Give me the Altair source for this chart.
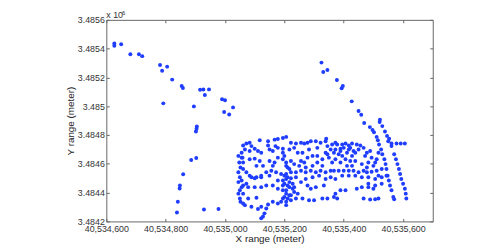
import altair as alt
import pandas as pd

# Scattered trail on the west side (meters)
west_pts = [
    [40534627, 3485436], [40534627, 3485420], [40534650, 3485431], [40534681, 3485361],
    [40534710, 3485361], [40534721, 3485348], [40534781, 3485286], [40534788, 3485247],
    [40534805, 3485275], [40534822, 3485185], [40534854, 3485140], [40534858, 3485127],
    [40534792, 3485020], [40534895, 3484999], [40534916, 3485115], [40534927, 3485116],
    [40534946, 3485117], [40534932, 3485078], [40534990, 3485049], [40535000, 3485041],
    [40534997, 3484960], [40535014, 3484942], [40535027, 3484992], [40534905, 3484859],
    [40534904, 3484843], [40534902, 3484825], [40534886, 3484627], [40534903, 3484641],
    [40534859, 3484528], [40534848, 3484450], [40534847, 3484429], [40534841, 3484336],
    [40534838, 3484262], [40534929, 3484283], [40534978, 3484286],
]

# Trail coming down from the north-east (meters)
ne_pts = [
    [40535325, 3485303], [40535331, 3485238], [40535345, 3485252], [40535377, 3485182],
    [40535393, 3485125], [40535397, 3485140], [40535427, 3485034], [40535450, 3484967],
    [40535459, 3484941], [40535469, 3484883], [40535488, 3484855], [40535497, 3484835],
    [40535502, 3484819], [40535511, 3484787], [40535522, 3484907], [40535521, 3484890],
    [40535530, 3484862], [40535539, 3484825], [40535546, 3484794], [40535553, 3484774],
    [40535341, 3484774],
]

# Two diagonal lines on the east edge of the block
east_pts = [
    [40535515, 3484764], [40535519, 3484734], [40535526, 3484700], [40535530, 3484666],
    [40535537, 3484632], [40535541, 3484598], [40535544, 3484564], [40535548, 3484518],
    [40535552, 3484484], [40535556, 3484450], [40535561, 3484416], [40535567, 3484370],
    [40535570, 3484354],
    [40535550, 3484757], [40535561, 3484723], [40535570, 3484666], [40535576, 3484632],
    [40535581, 3484598], [40535586, 3484564], [40535590, 3484529], [40535594, 3484495],
    [40535600, 3484461], [40535606, 3484427], [40535609, 3484393], [40535611, 3484359],
    [40535561, 3484741], [40535578, 3484741], [40535592, 3484741], [40535606, 3484741],
]

# Dense block of points (meters)
block_pts = [
    # top row
    [40535061, 3484727], [40535072, 3484741], [40535083, 3484746], [40535089, 3484723],
    [40535117, 3484764], [40535145, 3484757], [40535145, 3484727], [40535167, 3484768],
    [40535170, 3484723], [40535178, 3484773], [40535195, 3484780], [40535206, 3484787],
    [40535222, 3484746], [40535239, 3484741], [40535256, 3484746], [40535267, 3484741],
    [40535278, 3484746], [40535289, 3484757], [40535306, 3484757], [40535322, 3484746],
    [40535339, 3484757], [40535345, 3484723], [40535361, 3484734], [40535378, 3484734],
    [40535395, 3484734], [40535406, 3484741], [40535417, 3484727], [40535428, 3484741],
    [40535444, 3484734], [40535456, 3484727], [40535467, 3484711],
    # second row
    [40535056, 3484677], [40535067, 3484700], [40535083, 3484689], [40535100, 3484705],
    [40535111, 3484689], [40535122, 3484677], [40535150, 3484700], [40535161, 3484689],
    [40535178, 3484711], [40535195, 3484705], [40535217, 3484700], [40535233, 3484711],
    [40535245, 3484677], [40535261, 3484677], [40535283, 3484700], [40535311, 3484711],
    [40535339, 3484677], [40535372, 3484700], [40535389, 3484689], [40535400, 3484711],
    [40535417, 3484700], [40535433, 3484689], [40535450, 3484700], [40535478, 3484677],
    [40535489, 3484689], [40535517, 3484677],
    # third row
    [40535056, 3484643], [40535061, 3484609], [40535083, 3484632], [40535100, 3484636],
    [40535117, 3484620], [40535128, 3484586], [40535150, 3484620], [40535167, 3484609],
    [40535178, 3484643], [40535195, 3484632], [40535206, 3484609], [40535222, 3484620],
    [40535233, 3484598], [40535256, 3484620], [40535267, 3484609], [40535278, 3484643],
    [40535295, 3484655], [40535311, 3484655], [40535328, 3484632], [40535345, 3484666],
    [40535361, 3484609], [40535372, 3484632], [40535389, 3484609], [40535406, 3484632],
    [40535422, 3484620], [40535439, 3484620], [40535461, 3484598], [40535483, 3484609],
    [40535506, 3484609],
    # middle band
    [40535061, 3484564], [40535072, 3484541], [40535089, 3484507], [40535106, 3484507],
    [40535122, 3484518], [40535139, 3484541], [40535156, 3484552], [40535172, 3484541],
    [40535189, 3484529], [40535206, 3484529], [40535222, 3484541], [40535239, 3484541],
    [40535256, 3484552], [40535272, 3484541], [40535289, 3484552], [40535306, 3484541],
    [40535322, 3484552], [40535339, 3484541], [40535356, 3484552], [40535367, 3484552],
    [40535383, 3484552], [40535400, 3484552], [40535417, 3484552], [40535433, 3484552],
    [40535450, 3484541], [40535467, 3484552], [40535478, 3484541], [40535494, 3484545],
    [40535511, 3484552], [40535528, 3484564],
    # fourth row
    [40535056, 3484484], [40535061, 3484450], [40535083, 3484518], [40535100, 3484500],
    [40535122, 3484507], [40535150, 3484518], [40535178, 3484484], [40535195, 3484484],
    [40535206, 3484495], [40535222, 3484500], [40535239, 3484507], [40535256, 3484473],
    [40535272, 3484495], [40535295, 3484507], [40535317, 3484518], [40535339, 3484495],
    [40535356, 3484507], [40535372, 3484495], [40535395, 3484518], [40535417, 3484518],
    [40535439, 3484518], [40535461, 3484507], [40535483, 3484507], [40535506, 3484495],
    [40535528, 3484507], [40535544, 3484518],
    # fifth row
    [40535050, 3484416], [40535061, 3484393], [40535078, 3484438], [40535100, 3484438],
    [40535122, 3484438], [40535139, 3484450], [40535161, 3484450], [40535178, 3484427],
    [40535195, 3484450], [40535206, 3484416], [40535217, 3484438], [40535233, 3484438],
    [40535245, 3484393], [40535278, 3484450], [40535289, 3484427], [40535306, 3484438],
    [40535372, 3484393], [40535389, 3484416], [40535406, 3484416], [40535444, 3484427],
    [40535461, 3484438], [40535483, 3484438], [40535506, 3484450], [40535528, 3484461],
    # bottom row
    [40535050, 3484359], [40535061, 3484325], [40535078, 3484359], [40535089, 3484302],
    [40535106, 3484364], [40535122, 3484302], [40535145, 3484318], [40535161, 3484336],
    [40535178, 3484325], [40535195, 3484359], [40535206, 3484336], [40535222, 3484382],
    [40535239, 3484359], [40535261, 3484359], [40535283, 3484347], [40535300, 3484347],
    [40535328, 3484359], [40535345, 3484359], [40535367, 3484370], [40535378, 3484359],
    [40535467, 3484359], [40535489, 3484352], [40535506, 3484354], [40535517, 3484359],
    # tail to the south
    [40535122, 3484222], [40535128, 3484234], [40535133, 3484256], [40535139, 3484290],
    [40535111, 3484286],
    # west column
    [40535045, 3484655], [40535048, 3484609], [40535052, 3484575], [40535045, 3484541],
    [40535050, 3484507], [40535045, 3484473], [40535056, 3484438], [40535045, 3484393],
    [40535052, 3484336], [40535067, 3484313], [40535059, 3484643], [40535072, 3484461],
    # dense column
    [40535195, 3484677], [40535200, 3484655], [40535206, 3484586], [40535211, 3484575],
    [40535217, 3484564], [40535200, 3484518], [40535211, 3484507], [40535217, 3484473],
    [40535200, 3484461], [40535211, 3484450], [40535195, 3484416], [40535206, 3484393],
    [40535217, 3484382], [40535200, 3484370], [40535211, 3484359], [40535222, 3484347],
    [40535189, 3484336], [40535206, 3484313], [40535228, 3484427], [40535228, 3484461],
    [40535233, 3484404],
    # extra points, north-middle
    [40535356, 3484700], [40535367, 3484677], [40535383, 3484666], [40535395, 3484655],
    [40535411, 3484677], [40535428, 3484655], [40535372, 3484746], [40535389, 3484705],
    [40535422, 3484711], [40535439, 3484677], [40535350, 3484643], [40535411, 3484586],
    [40535428, 3484586], [40535328, 3484586], [40535311, 3484609], [40535295, 3484586],
    [40535272, 3484575], [40535250, 3484586], [40535161, 3484586], [40535106, 3484586],
    [40535333, 3484450],
    # extra points, east part
    [40535472, 3484655], [40535494, 3484643], [40535511, 3484632], [40535478, 3484575],
    [40535500, 3484586], [40535517, 3484518], [40535483, 3484461], [40535500, 3484427],
]

all_pts = west_pts + ne_pts + east_pts + block_pts
df = pd.DataFrame(all_pts, columns=["x", "y"])

x_ticks = [40534600, 40534800, 40535000, 40535200, 40535400, 40535600]
y_ticks = [3484200, 3484400, 3484600, 3484800, 3485000, 3485200, 3485400, 3485600]
x_domain = [40534600, 40535700]
y_domain = [3484200, 3485600]

FONT = "Liberation Sans"
AXIS_COL = "#666666"
LABEL_COL = "#333333"

xs = alt.Scale(domain=x_domain, nice=False, zero=False)
ys = alt.Scale(domain=y_domain, nice=False, zero=False)

tick_style = dict(
    domain=False, grid=False, ticks=True, tickSize=3, offset=-3,
    tickColor=AXIS_COL, tickWidth=1,
)
text_style = dict(
    labelFont=FONT, labelFontSize=9, labelColor=LABEL_COL,
    titleFont=FONT, titleFontSize=10, titleColor="#222222", titleFontWeight="normal",
)

points = alt.Chart(df).mark_circle(size=16, color="#1f3dff", opacity=1).encode(
    x=alt.X("x:Q", scale=xs, axis=alt.Axis(
        orient="bottom", values=x_ticks, format=",d", title="X range (meter)",
        labelPadding=3, titlePadding=0, labelFlush=False, **tick_style, **text_style)),
    y=alt.Y("y:Q", scale=ys, axis=alt.Axis(
        orient="left", values=y_ticks, title="Y range (meter)",
        labelExpr="format(datum.value / 1000000, '.5~g')",
        labelPadding=2, titlePadding=2, labelFlush=False, **tick_style, **text_style)),
)

mirror = alt.Chart(df).mark_circle(opacity=0).encode(
    x=alt.X("x:Q", scale=xs, axis=alt.Axis(
        orient="top", values=x_ticks, labels=False, title=None, **tick_style)),
    y=alt.Y("y:Q", scale=ys, axis=alt.Axis(
        orient="right", values=y_ticks, labels=False, title=None, **tick_style)),
)

exp_base = alt.Chart(pd.DataFrame({"t": ["x 10"]})).mark_text(
    align="left", baseline="alphabetic", font=FONT, fontSize=9, color=LABEL_COL
).encode(x=alt.value(0), y=alt.value(-2), text="t:N")

exp_sup = alt.Chart(pd.DataFrame({"t": ["6"]})).mark_text(
    align="left", baseline="alphabetic", font=FONT, fontSize=6, color=LABEL_COL
).encode(x=alt.value(16), y=alt.value(-5), text="t:N")

chart = alt.layer(points, mirror, exp_base, exp_sup).resolve_axis(
    x="independent", y="independent"
).properties(
    width=332, height=205,
    autosize=alt.AutoSizeParams(type="none"),
    padding={"left": 100, "top": 10, "right": 45, "bottom": 26},
).configure_view(stroke=AXIS_COL, strokeWidth=1)

chart.save("out.html", embed_options={"renderer": "svg", "actions": False})
